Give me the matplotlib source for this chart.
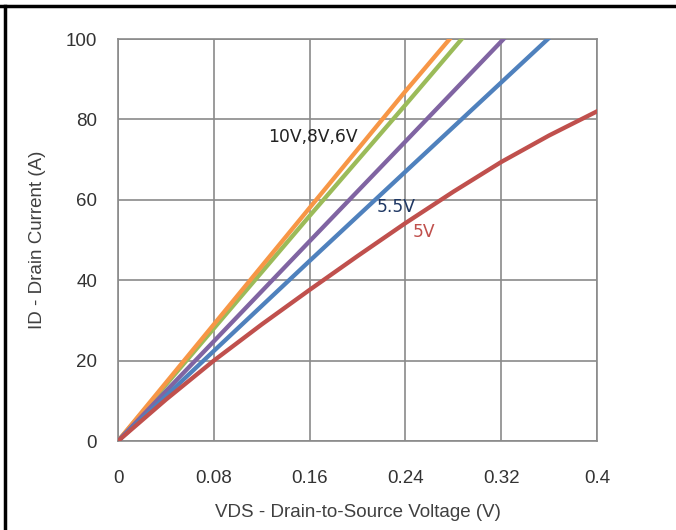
import matplotlib
matplotlib.use("Agg")
import matplotlib.pyplot as plt
from matplotlib.lines import Line2D

# VDS (V) / ID (A), one curve per VGS
vds_10v = [0, 0.08, 0.16, 0.24, 0.277]
id_10v = [0, 29, 58, 87, 100]
vds_8v = [0, 0.08, 0.16, 0.24, 0.287]
id_8v = [0, 28, 56, 83.6, 100]
vds_6v = [0, 0.08, 0.16, 0.24, 0.322]
id_6v = [0, 24.8, 49.7, 74.5, 100]
vds_55v = [0, 0.08, 0.16, 0.24, 0.359]
id_55v = [0, 22.4, 44.8, 67, 100]
vds_5v = [0, 0.04, 0.08, 0.12, 0.16, 0.2, 0.24, 0.28, 0.32, 0.36, 0.4]
id_5v = [0, 10.3, 20, 29, 37.6, 46, 54.2, 62, 69.4, 76, 82]

x_ticks = [0, 0.08, 0.16, 0.24, 0.32, 0.4]
x_tick_labels = ["0", "0.08", "0.16", "0.24", "0.32", "0.4"]
y_ticks = [0, 20, 40, 60, 80, 100]

fig = plt.figure(figsize=(6.76, 5.30), dpi=100)
ax = fig.add_axes([0.1746, 0.1679, 0.7085, 0.7585])

lw = 3.1
ax.plot(vds_10v, id_10v, color="#F79646", lw=lw, zorder=3)
ax.plot(vds_8v, id_8v, color="#9BBB59", lw=lw, zorder=2.9)
ax.plot(vds_6v, id_6v, color="#8064A2", lw=lw, zorder=3)
ax.plot(vds_55v, id_55v, color="#4F81BD", lw=lw, zorder=3)
ax.plot(vds_5v, id_5v, color="#C0504D", lw=lw, zorder=3)

ax.set_xlim(0, 0.4)
ax.set_ylim(0, 100)
ax.set_xticks(x_ticks)
ax.set_xticklabels(x_tick_labels)
ax.set_yticks(y_ticks)
ax.grid(True, color="#8a8a8a", lw=1.2)
ax.set_axisbelow(True)
for s in ax.spines.values():
    s.set_color("#8a8a8a")
    s.set_linewidth(1.2)
ax.tick_params(length=0, labelsize=13.5, labelcolor="#333333")
ax.tick_params(axis="x", pad=21)
ax.tick_params(axis="y", pad=15)
for lab in ax.get_xticklabels() + ax.get_yticklabels():
    lab.set_fontfamily("Liberation Sans")

ax.set_xlabel("VDS - Drain-to-Source Voltage (V)", fontsize=13.5, color="#404040",
              family="Liberation Sans", labelpad=12)
ax.set_ylabel("ID - Drain Current (A)", fontsize=13.5, color="#404040",
              family="Liberation Sans", labelpad=14)

ax.text(0.1253, 75.6, "10V,8V,6V", fontsize=12.3, color="#222222", va="center", ha="left")
ax.text(0.2163, 58.2, "5.5V", fontsize=12.3, color="#1F3864", va="center", ha="left")
ax.text(0.2463, 52, "5V", fontsize=12.3, color="#C0504D", va="center", ha="left")

# black frame lines at top and left edge of the cropped figure
fig.add_artist(Line2D([0, 1], [0.9887, 0.9887], color="black", lw=2.5, transform=fig.transFigure))
fig.add_artist(Line2D([0.0074, 0.0074], [0, 0.9887], color="black", lw=2.5, transform=fig.transFigure))

fig.savefig("out.png", dpi=100)
